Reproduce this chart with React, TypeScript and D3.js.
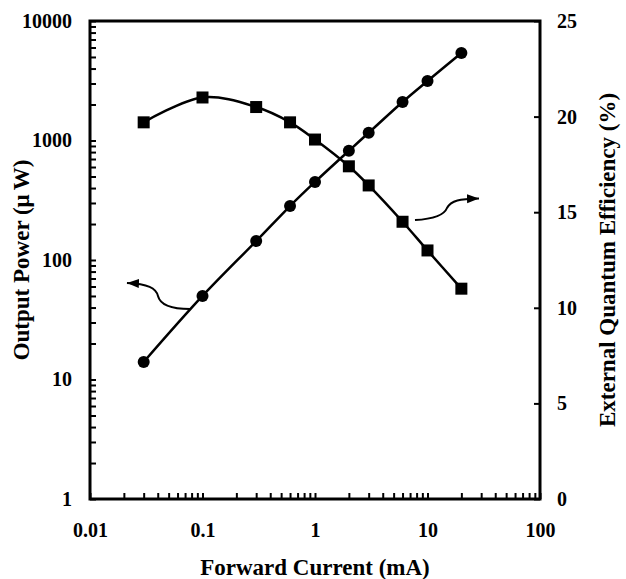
import { useEffect, useRef } from 'react';
import * as d3 from 'd3';

// forward current sweep (mA) and the two measured curves
const current = [0.03, 0.1, 0.3, 0.6, 1, 2, 3, 6, 10, 20];
const outputPower = [14, 50, 144, 283, 450, 820, 1160, 2100, 3150, 5400]; // uW
const efficiency = [19.7, 21.0, 20.5, 19.7, 18.8, 17.4, 16.4, 14.5, 13.0, 11.0]; // %

const xTickLabels = ['0.01', '0.1', '1', '10', '100'];
const yTickLabels = ['1', '10', '100', '1000', '10000'];
const effTicks = [0, 5, 10, 15, 20, 25];

// annotation arrows, in data units: [current, value] bezier points, last one is the tip
const powerArrow = [
  [0.0774, 38.9], [0.0514, 38.9], [0.0419, 42.8], [0.0402, 50],
  [0.0386, 58.3], [0.0328, 63], [0.0213, 64.2],
];
const effArrow = [
  [7.74, 14.59], [10.96, 14.64], [14.0, 14.8], [14.9, 15.22],
  [16.2, 15.64], [19.45, 15.69], [28.7, 15.72],
];

const W = 626;
const H = 579;
const margin = { top: 21, right: 86, bottom: 80, left: 90 };
const FONT = 'Liberation Serif';

export default function App() {
  const svgRef = useRef<SVGSVGElement | null>(null);

  useEffect(() => {
    document.body.style.margin = '0';
    const svg = d3.select(svgRef.current);
    svg.selectAll('*').remove();

    const x0 = margin.left;
    const x1 = W - margin.right;
    const y0 = H - margin.bottom;
    const y1 = margin.top;

    const x = d3.scaleLog().domain([0.01, 100]).range([x0, x1]);
    const y = d3.scaleLog().domain([1, 10000]).range([y0, y1]);
    const yR = d3.scaleLinear().domain([0, 25]).range([y0, y1]);

    const isDecade = (d: number) => Math.abs(Math.log10(d) - Math.round(Math.log10(d))) < 1e-6;

    const styleAxis = (g: any) => {
      g.select('.domain').remove();
      g.selectAll('line').attr('stroke', '#000').attr('stroke-width', 2);
      g.selectAll('text')
        .attr('font-family', FONT)
        .attr('font-weight', 'bold')
        .attr('font-size', 20)
        .attr('fill', '#000');
    };

    svg.append('g')
      .attr('transform', `translate(0,${y0})`)
      .call(
        d3.axisBottom(x)
          .tickValues(x.ticks())
          .tickSizeInner(-6)
          .tickSizeOuter(0)
          .tickPadding(24)
          .tickFormat((d: any) => (isDecade(d) ? xTickLabels[Math.round(Math.log10(d)) + 2] : '')),
      )
      .call(styleAxis);

    svg.append('g')
      .attr('transform', `translate(${x0},0)`)
      .call(
        d3.axisLeft(y)
          .tickValues(y.ticks())
          .tickSizeInner(-6)
          .tickSizeOuter(0)
          .tickPadding(18)
          .tickFormat((d: any) => (isDecade(d) ? yTickLabels[Math.round(Math.log10(d))] : '')),
      )
      .call(styleAxis);

    svg.append('g')
      .attr('transform', `translate(${x1},0)`)
      .call(
        d3.axisRight(yR)
          .tickValues(effTicks)
          .tickSizeInner(-6)
          .tickSizeOuter(0)
          .tickPadding(17)
          .tickFormat(d3.format('d') as any),
      )
      .call(styleAxis);

    // frame
    svg.append('rect')
      .attr('x', x0).attr('y', y1)
      .attr('width', x1 - x0).attr('height', y0 - y1)
      .attr('fill', 'none').attr('stroke', '#000').attr('stroke-width', 3);

    const title = (sel: any) =>
      sel.attr('text-anchor', 'middle')
        .attr('font-family', FONT).attr('font-weight', 'bold').attr('font-size', 23);

    // axis titles
    svg.append('text')
      .attr('x', (x0 + x1) / 2).attr('y', 575)
      .call(title)
      .text('Forward Current (mA)');

    const lt = svg.append('text')
      .attr('transform', `translate(29,${(y0 + y1) / 2}) rotate(-90)`)
      .call(title);
    lt.append('tspan').text('Output Power (μ');
    lt.append('tspan').attr('dx', 4).text('W)');

    svg.append('text')
      .attr('transform', `translate(615,${(y0 + y1) / 2}) rotate(-90)`)
      .call(title)
      .text('External Quantum Efficiency (%)');

    // series
    const powerLine = d3.line<number>()
      .x((_, i) => x(current[i]))
      .y((d) => y(d))
      .curve(d3.curveCatmullRom);
    const effLine = d3.line<number>()
      .x((_, i) => x(current[i]))
      .y((d) => yR(d))
      .curve(d3.curveCatmullRom);

    svg.append('path')
      .attr('d', powerLine(outputPower))
      .attr('fill', 'none').attr('stroke', '#000').attr('stroke-width', 2.5);
    svg.append('path')
      .attr('d', effLine(efficiency))
      .attr('fill', 'none').attr('stroke', '#000').attr('stroke-width', 2.5);

    svg.selectAll('.pt')
      .data(outputPower)
      .join('circle')
      .attr('class', 'pt')
      .attr('cx', (_, i) => x(current[i]))
      .attr('cy', (d) => y(d))
      .attr('r', 6)
      .attr('fill', '#000');

    const s = 12;
    svg.selectAll('.sq')
      .data(efficiency)
      .join('rect')
      .attr('class', 'sq')
      .attr('x', (_, i) => x(current[i]) - s / 2)
      .attr('y', (d) => yR(d) - s / 2)
      .attr('width', s)
      .attr('height', s)
      .attr('fill', '#000');

    // arrows
    svg.append('defs').append('marker')
      .attr('id', 'head')
      .attr('markerUnits', 'userSpaceOnUse')
      .attr('markerWidth', 14).attr('markerHeight', 12)
      .attr('viewBox', '0 -6 14 12')
      .attr('refX', 12).attr('refY', 0)
      .attr('orient', 'auto')
      .append('path')
      .attr('d', 'M0,-4.5L12,0L0,4.5Z')
      .attr('fill', '#000');

    const arrowPath = (pts: number[][], ys: (v: number) => number) => {
      const p = d3.path();
      const P = pts.map(([a, b]) => [x(a), ys(b)]);
      p.moveTo(P[0][0], P[0][1]);
      p.bezierCurveTo(P[1][0], P[1][1], P[2][0], P[2][1], P[3][0], P[3][1]);
      p.bezierCurveTo(P[4][0], P[4][1], P[5][0], P[5][1], P[6][0], P[6][1]);
      return p.toString();
    };

    svg.append('path')
      .attr('d', arrowPath(powerArrow, y))
      .attr('fill', 'none').attr('stroke', '#000').attr('stroke-width', 2)
      .attr('marker-end', 'url(#head)');
    svg.append('path')
      .attr('d', arrowPath(effArrow, yR))
      .attr('fill', 'none').attr('stroke', '#000').attr('stroke-width', 2)
      .attr('marker-end', 'url(#head)');
  }, []);

  return <svg ref={svgRef} width={W} height={H} style={{ display: 'block' }} />;
}
